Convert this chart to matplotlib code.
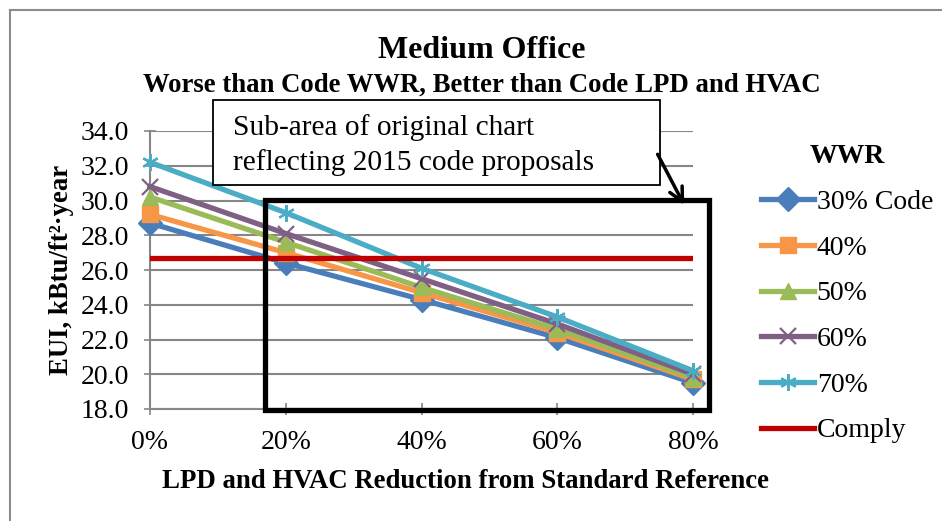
import matplotlib.pyplot as plt
from matplotlib.patches import Rectangle
from matplotlib.lines import Line2D

plt.rcParams['font.family'] = ['Liberation Serif', 'DejaVu Serif']

# reduction of LPD and HVAC (%)
reduction = [0, 20, 40, 60, 80]
tick_labels = ['0%', '20%', '40%', '60%', '80%']

# EUI, kBtu/ft2-year per WWR
wwr30 = [28.7, 26.4, 24.3, 22.1, 19.5]
wwr40 = [29.2, 27.0, 24.7, 22.4, 19.7]
wwr50 = [30.2, 27.6, 25.0, 22.6, 19.8]
wwr60 = [30.8, 28.1, 25.5, 22.9, 20.0]
wwr70 = [32.2, 29.3, 26.1, 23.3, 20.2]
comply = 26.7

series = [
    ('30% Code', wwr30, '#4A7EBB', 'D'),
    ('40%', wwr40, '#F79646', 's'),
    ('50%', wwr50, '#9BBB59', '^'),
    ('60%', wwr60, '#7F6084', 'x'),
    ('70%', wwr70, '#4BACC6', (6, 2, 0)),
]

fig = plt.figure(figsize=(9.42, 5.21), dpi=100)
ax = fig.add_axes([150 / 942, 1 - 409 / 521, 543 / 942, 278 / 521])

# outer chart border
fig.add_artist(Line2D([10 / 942, 10 / 942], [0, 1 - 10 / 521], color='#8C8C8C', lw=1.5))
fig.add_artist(Line2D([10 / 942, 1], [1 - 10 / 521, 1 - 10 / 521], color='#8C8C8C', lw=1.5))

for name, vals, col, mk in series:
    ax.plot(reduction, vals, color=col, lw=3.8, marker=mk, markersize=12,
            markeredgewidth=1.6 if mk in ('x', (6, 2, 0)) else 1,
            markeredgecolor=col, label=name, clip_on=False, zorder=3)
ax.plot([reduction[0], reduction[-1]], [comply, comply], color='#C00000', lw=3.8,
        label='Comply', zorder=3)

ax.set_xlim(0, 80)
ax.set_ylim(18, 34)
ax.set_xticks(reduction)
ax.set_xticklabels(tick_labels)
ax.set_yticks(range(18, 35, 2))
ax.set_yticklabels([f'{v:.1f}' for v in range(18, 35, 2)])
ax.tick_params(direction='inout', length=8, width=1.2, color='#868686', labelsize=20)
ax.tick_params(axis='y', pad=11)
ax.tick_params(axis='x', pad=11)
ax.grid(axis='y', color='#868686', lw=1.5)
for s in ['top', 'right']:
    ax.spines[s].set_visible(False)
for s in ['left', 'bottom']:
    ax.spines[s].set_color('#868686')
    ax.spines[s].set_linewidth(1.5)

ax.set_xlabel('LPD and HVAC Reduction from Standard Reference', fontsize=19.3,
              fontweight='bold')
ax.xaxis.set_label_coords(0.581, -60 / 278)
ax.set_ylabel('EUI, kBtu/ft²·year', fontsize=19.3, fontweight='bold')
ax.yaxis.set_label_coords(-76 / 543, 0.5)

fig.text(482 / 942, 1 - 50 / 521, 'Medium Office', ha='center', va='center',
         fontsize=23, fontweight='bold')
fig.text(482 / 942, 1 - 85 / 521, 'Worse than Code WWR, Better than Code LPD and HVAC',
         ha='center', va='center', fontsize=19.3, fontweight='bold')

# sub-area box and callout
ax.add_patch(Rectangle((16.9, 17.95), 82.4 - 16.9, 30.03 - 17.95, fill=False,
                       ec='black', lw=3.8, clip_on=False, zorder=5))
ax.add_patch(Rectangle((9.3, 30.9), 75.1 - 9.3, 35.8 - 30.9, fc='white',
                       ec='black', lw=1.3, clip_on=False, zorder=6))
ax.text(12.2, 33.2, 'Sub-area of original chart\nreflecting 2015 code proposals',
        fontsize=21.2, va='center', ha='left', linespacing=1.35, zorder=7)
ax.annotate('', xy=(78.9, 29.6), xytext=(74.6, 32.8),
            arrowprops=dict(arrowstyle='->', lw=2.5, color='black',
                            mutation_scale=25), annotation_clip=False, zorder=7)

leg = fig.legend(loc='upper left', bbox_to_anchor=(750 / 942, 1 - 133 / 521),
                 frameon=False, fontsize=20, title='WWR', handlelength=1.9,
                 handletextpad=0.1, labelspacing=0.73, borderaxespad=0)
leg.get_title().set_fontweight('bold')
leg.get_title().set_fontsize(20)

fig.savefig('out.png', dpi=100)
